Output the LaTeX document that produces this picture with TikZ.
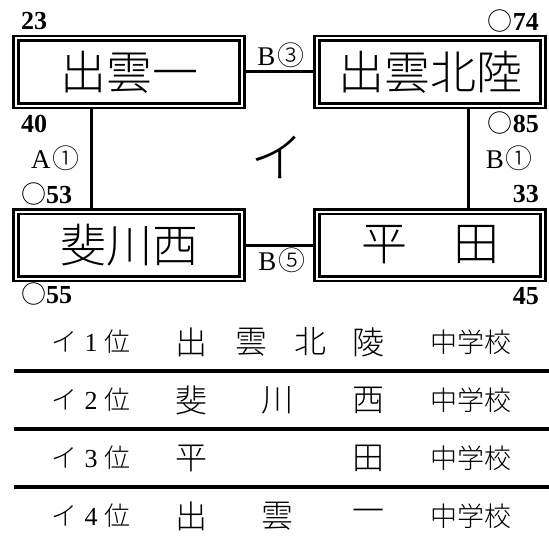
\documentclass[tikz,border=0pt]{standalone}
\usepackage{fontspec}
\setmainfont{Liberation Serif}
\newfontfamily\jp{Noto Sans CJK JP}
\newfontfamily\jpl{Noto Sans CJK JP Light}
\newcommand{\fs}[1]{\fontsize{#1}{#1}\selectfont}
\begin{document}
\begin{tikzpicture}[x=1pt,y=-1pt,
	school/.style={draw,double,line width=2.8pt,double distance=2pt,minimum width=226pt,minimum height=67pt,inner sep=0pt,outer sep=3.8pt,font=\jpl\fs{46pt}},
	link/.style={line width=3pt},
	score/.style={inner sep=0pt,font=\bfseries\fs{26pt}},
	game/.style={inner sep=0pt,font=\fs{27pt}},
	rank/.style={inner sep=0pt,font=\jpl\fs{26pt}},
	kanji/.style={inner sep=0pt,font=\jpl\fs{32pt}},
	sepline/.style={line width=3.5pt}]
	\useasboundingbox (0,0) rectangle (549,543);
	% league boxes
	\node[school] (izumo) at (129,72) {出雲一};
	\node[school] (hokuryo) at (430,72) {出雲北陸};
	\node[school] (hikawa) at (129,245) {斐川西};
	\node[school] (hirata) at (430,245) {平　田};
	\draw[link] (izumo) -- (hokuryo);
	\draw[link] (hikawa) -- (hirata);
	\draw[link] ([xshift=-38pt]izumo.south) -- ([xshift=-38pt]hikawa.north);
	\draw[link] ([xshift=38pt]hokuryo.south) -- ([xshift=38pt]hirata.north);
	\node[font=\jpl\fs{54pt},inner sep=0pt] (block) at (277,157) {イ};
	% game labels
	\node[game] (g1) at (281,55) {B\hspace{2pt}{\jpl\fs{27pt}③}};
	\node[game] (g2) at (282,260) {B\hspace{2pt}{\jpl\fs{27pt}⑤}};
	\node[game,anchor=west] (g3) at (31,158) {A\hspace{2pt}{\jpl\fs{27pt}①}};
	\node[game,anchor=east] (g4) at (533,158) {B\hspace{2pt}{\jpl\fs{27pt}①}};
	% scores
	\node[score,anchor=west] (s1) at (21,21) {23};
	\node[score,anchor=west] (s2) at (21,124) {40};
	\node[score,anchor=west] (s3) at (21,194) {{\jp\mdseries\fs{25pt}○}53};
	\node[score,anchor=west] (s4) at (21,294) {{\jp\mdseries\fs{25pt}○}55};
	\node[score,anchor=east] (s5) at (539,21) {{\jp\mdseries\fs{25pt}○}74};
	\node[score,anchor=east] (s6) at (539,123) {{\jp\mdseries\fs{25pt}○}85};
	\node[score,anchor=east] (s7) at (539,194) {33};
	\node[score,anchor=east] (s8) at (539,296) {45};
	% standings
	\node[rank] (r1) at (91,342) {イ\hspace{7pt}{\rmfamily 1}\hspace{7pt}位};
	\node[rank] (r2) at (91,400) {イ\hspace{7pt}{\rmfamily 2}\hspace{7pt}位};
	\node[rank] (r3) at (91,458) {イ\hspace{7pt}{\rmfamily 3}\hspace{7pt}位};
	\node[rank] (r4) at (91,516) {イ\hspace{7pt}{\rmfamily 4}\hspace{7pt}位};
	\node[kanji] (n11) at (191,342) {出};
	\node[kanji] (n12) at (251,342) {雲};
	\node[kanji] (n13) at (310,342) {北};
	\node[kanji] (n14) at (368,342) {陵};
	\node[kanji] (n21) at (191,400) {斐};
	\node[kanji] (n22) at (277,400) {川};
	\node[kanji] (n23) at (368,400) {西};
	\node[kanji] (n31) at (191,458) {平};
	\node[kanji] (n33) at (368,458) {田};
	\node[kanji] (n41) at (191,516) {出};
	\node[kanji] (n42) at (277,516) {雲};
	\node[kanji] (n43) at (368,516) {一};
	\node[rank,font=\jpl\fs{27pt}] (m1) at (471,342) {中学校};
	\node[rank,font=\jpl\fs{27pt}] (m2) at (471,400) {中学校};
	\node[rank,font=\jpl\fs{27pt}] (m3) at (471,458) {中学校};
	\node[rank,font=\jpl\fs{27pt}] (m4) at (471,516) {中学校};
	\draw[sepline] (14,371) -- (549,371);
	\draw[sepline] (14,429) -- (549,429);
	\draw[sepline] (14,487) -- (549,487);
\end{tikzpicture}
\end{document}
